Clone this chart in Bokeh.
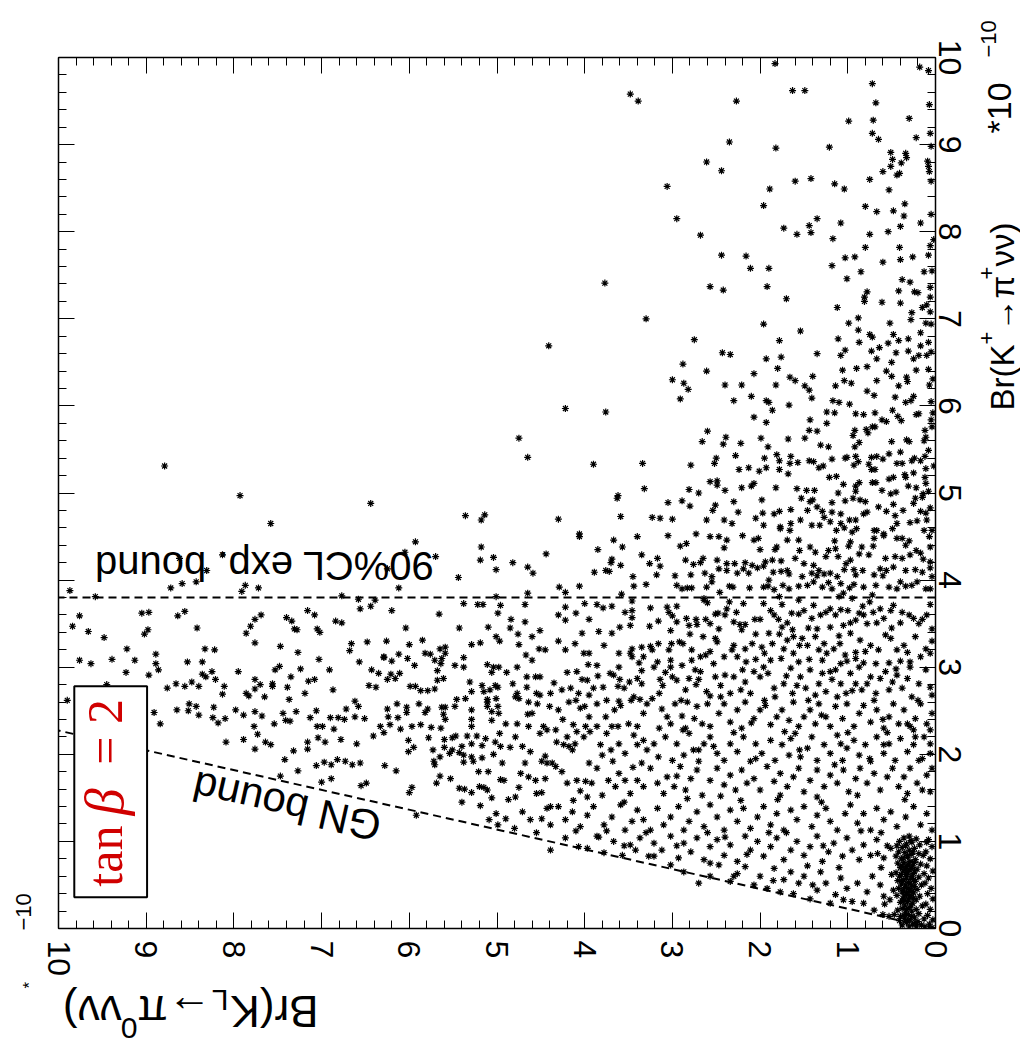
import math
from bokeh.plotting import figure
from bokeh.layouts import row, column
from bokeh.models import Range1d, LinearAxis, FixedTicker, Label, CustomJSTickFormatter
from bokeh.embed import file_html
from bokeh.resources import INLINE

# ---------------- data ----------------
kl_ticks = [0, 1, 2, 3, 4, 5, 6, 7, 8, 9, 10]
kp_ticks = [0, 1, 2, 3, 4, 5, 6, 7, 8, 9, 10]
minor_ticks = [round(0.2 * i, 1) for i in range(51)]

cl90_bound = 3.8      # 90%CL exp. bound on Br(K+ -> pi+ nu nu)  [1e-10]
gn_ratio = 4.4        # Grossman-Nir bound: Br(KL) < 4.4 Br(K+)

# points: (Br(K_L -> pi0 nu nu), Br(K+ -> pi+ nu nu)) in units of 1e-10
pts_upper = [
    (8.79,5.31),(7.93,4.97),
    (1.83,9.93),(0.18,9.89),(0.08,9.85),(0.72,9.70),(3.48,9.58),(3.39,9.50),(2.27,9.50),(1.63,9.62),(1.49,9.62),(0.68,9.48),
    (0.07,9.46),(0.99,9.27),(0.71,9.28),(0.30,9.30),(0.72,9.13),(0.65,9.06),(0.22,9.08),(0.06,9.13),(2.35,9.03),(1.82,8.96),
    (1.21,8.97),(0.05,8.98),(0.51,8.91),(0.34,8.90),(0.49,8.83),(0.33,8.85),(0.39,8.79),(0.51,8.75),(0.09,8.81),(0.08,8.75),
    (0.07,8.69),(0.60,8.69),(0.41,8.67),(0.44,8.65),(2.61,8.80),(2.44,8.70),(0.75,8.60),(0.05,8.58),(3.06,8.52),(1.89,8.49),
    (1.60,8.58),(1.42,8.61),(1.15,8.55),(1.04,8.49),(0.53,8.48),(1.96,8.30),(0.80,8.29),(0.67,8.23),(0.48,8.24),(0.35,8.32),
    (0.36,8.18),(0.05,8.20),(2.95,8.15),(2.68,7.96),(1.73,8.04),(1.58,7.97),(1.44,8.07),(1.42,7.99),(1.35,8.15),(1.08,8.10),
    (1.17,7.92),(0.75,7.97),(0.54,8.00),(0.40,8.06),(0.17,8.10),(0.02,7.91),(0.80,7.82),(0.41,7.82),(0.06,7.84),(2.44,7.73),
    (2.16,7.72),(2.11,7.58),(1.90,7.58),(1.18,7.61),(1.03,7.70),(0.92,7.71),(0.60,7.65),(0.40,7.68),(0.26,7.71),(0.08,7.73),
    (0.85,7.54),(1.01,7.46),(0.13,7.54),(0.04,7.55),(0.38,7.45),(0.29,7.42),(3.77,7.41),(2.57,7.37),(2.42,7.33),(1.92,7.37),
    (1.70,7.23),(0.81,7.25),(0.78,7.31),(0.81,7.20),(0.61,7.19),(0.42,7.32),(0.40,7.18),(0.24,7.31),(0.20,7.30),(0.06,7.36),
    (0.06,7.25),(0.10,7.16),(0.15,7.13),(1.12,7.13),(0.27,7.07),(0.06,7.08),(3.30,7.00),(1.96,6.94),(1.54,6.86),(0.99,6.95),
    (0.88,7.01),(0.88,6.87),(0.52,6.95),(0.28,6.99),(0.11,6.95),(0.05,6.94),(4.41,6.69),(2.75,6.76),(1.78,6.75),(1.11,6.77),
    (0.87,6.73),(0.75,6.82),(0.72,6.79),(0.54,6.72),(0.48,6.82),(0.42,6.75),(0.31,6.77),(0.17,6.84),(0.08,6.73),(2.43,6.61),
    (2.34,6.59),(1.93,6.54),(1.76,6.56),(1.35,6.60),(1.08,6.58),(1.03,6.64),(0.73,6.63),(0.67,6.54),(0.64,6.67),(0.45,6.61),
    (0.50,6.50),(0.31,6.63),(0.25,6.54),(0.19,6.58),(0.17,6.69),(0.10,6.58),(0.05,6.62),(2.88,6.48),(2.61,6.40),(3.00,6.30),
    (2.87,6.26),(2.82,6.19),(2.91,6.08),(2.40,6.24),(2.21,6.24),(2.07,6.37),(2.10,6.11),(1.80,6.43),(1.82,6.24),(1.66,6.33),
    (1.60,6.29),(1.49,6.23),(1.44,6.18),(1.40,6.34),(1.41,6.09),(1.14,6.23),(1.06,6.41),(1.04,6.29),(0.96,6.26),(0.90,6.43),
    (0.78,6.45),(0.67,6.29),(0.56,6.40),(0.50,6.34),(0.42,6.23),(0.33,6.33),(0.32,6.28),(0.22,6.41),(0.08,6.42),(0.03,6.31),
    (0.07,6.24),(0.78,6.17),(0.70,6.12),(0.46,6.10),(0.25,6.11),(0.34,6.04),(0.28,6.06),(0.05,6.05),(4.22,5.97),(3.76,5.93),
    (2.30,6.06),(1.93,6.06),(1.90,6.04),(1.67,6.01),(1.86,5.95),(2.07,5.87),(1.93,5.81),(1.24,5.93),(1.17,6.06),(1.10,6.04),
    (1.15,5.92),(0.98,6.02),(0.91,5.91),(0.82,5.90),(0.69,5.92),(0.61,5.84),(0.56,5.82),(0.43,5.88),(0.39,5.83),(0.49,5.95),
    (0.22,5.90),(0.19,5.91),(0.03,5.92),(0.05,5.84),(0.04,5.76),(1.43,5.84),(1.24,5.80),(1.44,5.72),(1.35,5.71),(4.75,5.63),
    (4.65,5.41),(3.90,5.33),(3.34,5.34),(3.32,5.05),(3.62,4.97),(2.60,5.71),(2.66,5.59),(2.42,5.56),(2.39,5.64),(2.22,5.57),
    (1.99,5.63),(1.91,5.53),(1.68,5.62),(1.49,5.63),(1.31,5.55),(1.22,5.53),(0.94,5.66),(0.92,5.72),(0.87,5.58),(0.92,5.53),
    (0.79,5.73),(0.72,5.76),(0.69,5.76),(0.77,5.69),(0.50,5.59),(0.33,5.61),(0.30,5.59),(0.12,5.72),(0.11,5.64),(0.13,5.60),
    (0.08,5.49),(2.79,5.32),(2.52,5.34),(2.50,5.40),(2.28,5.43),(2.24,5.27),(2.13,5.29),(2.01,5.25),(1.95,5.40),(1.93,5.29),
    (1.81,5.44),(1.78,5.37),(1.78,5.27),(1.68,5.22),(1.65,5.42),(1.66,5.34),(1.57,5.35),(1.44,5.37),(1.39,5.36),(1.33,5.29),
    (1.28,5.31),(1.18,5.39),(1.21,5.18),(1.13,5.19),(1.03,5.40),(1.01,5.41),(0.91,5.42),(0.93,5.32),(0.88,5.36),(0.76,5.33),
    (0.73,5.41),(0.67,5.42),(0.73,5.27),(0.69,5.27),(0.60,5.39),(0.53,5.45),(0.44,5.34),(0.38,5.34),(0.40,5.47),(0.27,5.37),
    (0.24,5.40),(0.17,5.37),(0.12,5.42),(0.11,5.28),(0.02,5.31),(0.53,5.16),(0.48,5.18),(0.35,5.21),(0.34,5.18),(0.25,5.23),
    (0.12,5.18),(2.57,5.13),(2.49,5.14),(2.49,5.09),(2.40,5.03),(2.81,5.04),(2.70,5.00),(2.21,5.06),(2.10,5.08),(2.07,5.11),
    (1.82,5.06),(1.58,5.05),(1.47,5.03),(1.38,5.03),(1.11,5.00),(1.05,5.10),(0.91,5.08),(0.87,5.12),(0.91,5.02),(0.72,5.12),
    (0.68,5.12),(0.61,5.03),(0.51,4.99),(0.45,5.01),(0.31,5.08),(0.22,5.06),(0.11,5.11),(0.14,4.99),(0.08,5.02),
]

pts_outer = [
    (6.44,4.88),(7.58,4.65),(5.36,4.74),(5.14,4.75),(5.18,4.69),(5.93,4.44),(5.18,4.38),(5.19,4.23),(5.04,4.26),(5.01,4.12),
    (5.70,4.27),(6.05,4.32),(6.25,4.13),(6.12,3.91),(5.44,4.03),(8.13,4.29),(8.31,4.11),(8.62,4.25),(9.87,3.88),(9.58,3.81),
    (8.72,3.91),(8.59,3.96),(8.43,3.98),(7.91,3.87),(7.87,3.94),(7.72,3.91),(6.77,3.82),(6.58,3.78),(6.44,3.70),(6.39,3.77),
    (6.56,3.67),(6.20,3.65),(5.38,3.73),(5.22,3.72),(5.16,3.72),(5.01,3.81),(5.66,3.61),(5.43,3.45),(5.10,3.46),(5.01,3.35),
    (6.04,3.45),(9.76,3.59),(9.84,3.47),(9.66,3.41),(9.48,3.34),(9.05,3.62),(8.97,3.63),(9.02,3.38),(8.98,3.43),(8.64,3.59),
    (8.56,3.64),(8.42,3.45),(7.86,3.39),(7.81,3.47),(7.76,3.28),(7.76,3.55),(7.69,3.60),(7.40,3.57),(7.34,3.53),(7.31,3.44),
    (7.28,3.43),(7.16,3.65),(7.08,3.60),(7.05,3.44),(7.02,3.40),(6.84,3.53),(6.77,3.51),(7.47,3.24),(7.27,3.17),(7.03,3.09),
    (7.24,2.98),(6.91,2.97),(6.87,2.74),(6.68,3.19),(6.66,3.27),(6.48,3.29),(6.26,3.30),(6.57,3.06),(6.00,3.26),(5.85,3.31),
    (5.82,3.16),(5.76,3.15),(5.65,3.21),(5.59,3.23),(6.12,3.15),(6.02,3.10),(6.29,3.11),(6.20,3.07),(5.94,3.02),(5.71,3.08),
    (5.64,3.04),(5.48,3.02),(5.38,3.11),(5.38,3.00),(5.29,3.26),(5.19,3.28),(5.11,3.03),(5.04,3.00),(5.68,2.96),(5.06,2.94),
    (9.76,3.08),(9.63,3.04),(9.39,3.09),(9.22,3.21),(9.13,3.08),(9.23,2.94),(8.89,3.15),(8.89,3.04),(8.86,2.97),(8.97,2.91),
    (9.45,2.80),(9.90,2.62),(8.91,2.48),(8.84,2.35),(8.76,2.76),(8.66,2.81),(8.56,2.78),(8.53,3.06),(8.48,2.83),(8.40,2.78),
    (8.36,3.06),(8.36,2.92),(8.33,3.21),(8.22,3.20),(8.25,2.95),(8.21,2.86),(8.32,2.89),(8.11,2.78),(8.13,2.69),(8.51,2.58),
    (8.52,2.50),(8.43,2.55),(8.40,2.45),(8.65,2.51),(8.23,2.54),(8.24,2.42),(8.18,2.36),(8.10,2.41),(8.09,2.14),(7.95,2.95),
    (7.98,2.51),(7.89,2.45),(7.89,2.17),(7.86,2.70),(7.83,2.67),(7.76,2.75),(7.76,2.86),(7.70,2.80),(7.76,2.49),(7.77,2.32),
    (7.73,2.23),(7.76,2.06),(7.68,2.44),(7.65,2.66),(7.64,2.14),(7.58,2.11),(7.56,2.81),(7.56,2.78),(7.53,2.97),(7.48,3.01),
    (7.54,2.35),(7.44,2.47),(7.41,2.39),(7.36,2.38),(7.39,2.77),(7.37,2.63),(7.35,2.89),(7.29,2.49),(7.19,2.70),(7.15,2.84),
    (7.08,2.86),(7.16,2.14),(7.16,2.06),(7.32,2.04),(7.42,1.94),(7.27,1.81),(7.06,2.50),(7.13,2.42),(7.05,2.32),(6.99,2.32),
    (7.04,2.19),(6.96,2.14),(6.86,2.29),(6.90,2.42),(6.81,2.42),(6.78,2.17),(6.74,2.40),(6.72,2.52),(6.62,2.61),(6.62,2.43),
    (6.58,2.55),(6.51,2.41),(6.60,2.12),(7.06,1.87),(6.97,1.91),(6.89,1.88),(6.82,1.94),(6.73,1.92),(6.65,1.88),(6.56,1.90),
    (7.00,1.68),(6.89,1.72),(7.47,1.75),(6.55,1.64),(6.49,1.67),(6.41,2.21),(6.33,2.32),(6.29,2.25),(6.28,1.87),(6.15,1.81),
    (6.25,2.52),(6.24,2.43),(6.22,2.34),(6.14,2.58),(6.13,2.42),(6.10,2.29),(6.03,2.54),(6.03,2.48),(6.01,2.16),(6.01,2.03),
    (5.95,2.08),(5.97,2.32),(5.89,2.58),(5.87,2.34),(5.82,2.48),(5.79,2.52),(5.78,2.19),(5.75,2.31),(5.73,2.05),(5.72,1.92),
    (5.71,1.88),(5.65,1.97),(5.65,1.75),(5.69,1.67),(5.64,2.30),(5.63,2.54),(5.61,2.46),(5.59,2.40),(5.59,2.54),(5.60,2.17),
    (5.60,2.08),(5.54,2.01),(5.53,1.72),(5.51,2.05),(5.51,2.19),(5.48,2.55),(5.46,2.63),(5.47,2.21),(5.43,2.02),(5.40,2.09),
    (5.38,1.91),(5.38,1.99),(5.36,2.64),(5.34,2.21),(5.29,2.12),(5.29,2.51),(5.29,2.40),(5.29,2.32),(5.29,1.97),(5.27,1.92),
    (5.23,2.21),(5.21,1.80),(5.17,1.96),(5.17,2.10),(5.13,2.18),(5.11,2.55),(5.11,2.63),(5.10,1.80),(5.06,2.39),(5.06,2.49),
    (5.04,2.00),(5.02,2.14),(5.01,2.64),(5.31,2.83),(5.29,2.72),(5.15,2.72),(5.17,2.79),(5.08,2.74),(5.02,2.79),(5.11,2.60),
    (5.93,2.78),(5.87,2.73),(5.79,2.73),(5.71,2.75),(5.68,2.85),(5.61,2.87),(5.63,3.10),(5.59,3.16),(6.11,2.93),(6.16,2.87),
    (6.25,2.86),(6.29,3.12),(6.43,2.97),(6.35,2.93),(6.46,2.79),(6.38,2.77),(6.21,2.92),(5.99,2.78),(5.43,1.61),(5.37,1.60),
    (5.40,1.45),(5.29,1.56),(5.20,1.63),(5.15,1.62),(5.11,1.59),(5.06,1.50),(5.19,1.41),(5.09,1.25),(6.00,1.56),(5.97,1.62),
    (5.92,1.30),(5.01,1.32),
]

pts_dense_top = [
    (3.63,4.94),(3.05,4.89),(2.89,4.91),(2.80,4.85),(2.51,4.86),(2.54,4.80),(2.25,4.78),(1.97,4.77),(1.98,4.92),(1.84,4.76),
    (1.78,4.79),(1.65,4.81),(1.53,4.94),(1.43,4.90),(1.40,4.92),(1.46,4.80),(1.35,4.84),(1.29,4.79),(1.18,4.89),(1.18,4.78),
    (1.08,4.76),(1.03,4.91),(0.94,4.94),(0.86,4.92),(0.80,4.90),(0.78,4.78),(0.65,4.84),(0.56,4.79),(0.48,4.87),(0.37,4.80),
    (0.25,4.88),(0.23,4.94),(0.17,4.79),(0.11,4.77),(0.06,4.83),(3.59,4.73),(3.23,4.72),(3.14,4.71),(2.61,4.69),(2.41,4.69),
    (2.32,4.65),(2.05,4.71),(1.96,4.63),(1.77,4.61),(1.66,4.57),(1.54,4.69),(1.41,4.63),(1.32,4.63),(1.27,4.72),(1.20,4.67),
    (1.13,4.57),(1.08,4.65),(0.98,4.69),(0.91,4.69),(0.90,4.59),(1.04,4.60),(0.82,4.76),(0.70,4.57),(0.67,4.57),(0.59,4.53),
    (0.46,4.74),(0.44,4.65),(0.49,4.59),(0.29,4.66),(0.21,4.68),(0.10,4.69),(0.13,4.57),(0.04,4.57),
    (4.06,4.53),(4.06,4.50),(3.67,4.46),(3.57,4.38),(4.44,4.30),(3.05,4.51),(2.91,4.39),(2.84,4.42),(2.73,4.53),(2.57,4.50),
    (2.47,4.50),(2.38,4.46),(2.41,4.37),(2.20,4.51),(2.07,4.46),(2.02,4.48),(1.81,4.38),(1.83,4.35),(1.77,4.59),(1.69,4.46),
    (1.56,4.46),(1.55,4.34),(1.43,4.38),(1.37,4.32),(1.25,4.27),(1.22,4.34),(1.14,4.36),(1.11,4.27),(0.99,4.39),(0.97,4.44),
    (0.84,4.38),(0.76,4.29),(0.70,4.48),(0.71,4.39),(0.59,4.51),(0.44,4.48),(0.38,4.48),(0.34,4.40),(0.22,4.34),(0.17,4.31),
    (0.06,4.38),(0.07,4.50),(0.46,4.27),(0.57,4.25),(0.87,4.30),(0.97,4.23),(1.02,4.19),(3.35,4.29),(3.17,4.25),(3.26,4.19),
    (3.69,4.24),(3.70,4.20),(3.59,4.17),(3.14,4.16),(2.85,4.23),(2.76,4.18),(2.68,4.20),(2.49,4.23),(2.38,4.19),(2.29,4.19),
    (2.17,4.20),(2.09,4.17),(1.94,4.21),(1.86,4.23),(1.76,4.22),(1.60,4.25),(1.50,4.19),(1.39,4.17),(0.14,4.24),(0.06,4.21),
    (0.29,4.29),(0.38,4.25),
    (4.82,4.20),(4.65,4.15),(4.59,4.08),(3.89,4.09),(3.76,4.11),(3.72,4.10),(3.45,4.04),(3.18,4.06),(2.97,4.05),(2.79,4.06),
    (2.63,4.08),(2.55,4.04),(2.47,4.13),(2.38,4.11),(2.26,4.08),(2.19,4.13),(2.13,4.08),(1.96,4.16),(2.03,4.14),(1.85,4.09),
    (1.76,4.10),(1.69,4.11),(1.67,4.07),(1.52,4.04),(1.41,4.08),(1.33,4.11),(1.27,4.07),(1.20,4.08),(1.12,4.04),(1.04,4.12),
    (0.93,4.12),(0.91,4.06),(0.83,4.11),(0.70,4.06),(0.63,4.13),(0.56,4.11),(0.48,4.15),(0.34,4.11),(0.23,4.12),(0.15,4.09),
    (0.06,4.14),(0.04,4.04),(4.29,3.92),(4.22,3.86),(4.06,3.93),(4.65,3.85),(3.58,3.84),(3.44,3.93),(2.95,3.94),(2.89,3.90),
    (2.83,3.91),(2.78,3.91),(2.61,3.92),(2.46,3.86),(2.35,3.93),(2.31,3.92),(2.12,3.91),(1.96,3.92),(1.91,3.93),(1.84,3.89),
    (1.74,3.94),(1.67,3.90),(1.56,3.93),(1.46,3.94),(1.39,3.98),(1.29,3.92),(1.22,3.97),(1.18,3.90),(1.08,3.96),(0.98,3.91),
    (0.93,3.95),(0.82,3.92),(0.68,3.94),(0.53,3.92),(0.44,3.90),(0.34,3.93),(0.27,3.94),(0.21,3.98),(0.11,3.90),(0.06,3.90),
    (1.05,3.85),(0.72,3.83),(1.10,3.81),(1.78,3.81),(2.64,3.79),
]

pts_dense_mid = [
    (4.96,3.71),(4.99,3.62),(4.84,3.55),(4.68,3.72),(4.68,3.52),(4.51,3.42),(4.22,3.69),(4.22,3.54),(4.10,3.62),(4.00,3.73),
    (3.86,3.72),(3.79,3.68),(3.69,3.70),(3.54,3.63),(3.46,3.76),(3.46,3.65),(3.46,3.57),(3.48,3.48),(3.26,3.47),(3.16,3.53),
    (3.06,3.69),(3.04,3.63),(3.00,3.59),(3.02,3.42),(2.95,3.70),(2.84,3.56),(2.73,3.55),(2.72,3.49),(2.64,3.77),(2.60,3.74),
    (2.62,3.55),(2.57,3.50),(2.51,3.61),(2.48,3.62),(2.40,3.60),(2.38,3.67),(2.27,3.63),(2.19,3.73),(2.30,3.52),(2.23,3.49),
    (2.17,3.49),(2.06,3.55),(2.00,3.55),(1.96,3.73),(1.88,3.65),(1.84,3.60),(1.79,3.55),(1.69,3.51),(1.64,3.62),(1.56,3.61),
    (1.50,3.65),(1.56,3.77),(1.39,3.71),(1.41,3.56),(1.31,3.60),(1.25,3.63),(1.20,3.67),(1.14,3.60),(1.08,3.66),(1.00,3.65),
    (0.95,3.79),(0.91,3.54),(0.87,3.62),(0.83,3.70),(0.82,3.60),(0.71,3.63),(0.63,3.67),(0.59,3.56),(0.51,3.65),(0.48,3.71),
    (0.38,3.63),(0.30,3.60),(0.25,3.56),(0.19,3.50),(0.10,3.60),(0.06,3.72),(0.04,3.44),(0.40,3.51),(0.67,3.51),(0.78,3.50),
    (0.97,3.51),(1.05,3.48),(1.20,3.46),(1.35,3.44),(1.63,3.43),(1.75,3.46),(2.21,3.43),(2.47,3.44),(2.81,3.48),
    (4.97,3.30),(4.76,3.38),(4.75,3.26),(4.67,3.14),(4.60,3.08),(4.52,3.21),(4.45,3.20),(4.30,3.30),(4.22,3.20),(4.11,3.27),
    (4.03,3.39),(4.01,3.16),(3.95,3.16),(3.84,3.41),(3.78,3.25),(3.69,3.39),(3.61,3.16),(3.48,3.16),(3.46,3.21),(3.35,3.23),
    (3.33,3.12),(3.25,3.24),(3.23,3.20),(3.16,3.27),(3.04,3.20),(3.01,3.27),(2.92,3.29),(2.88,3.27),(2.80,3.38),(2.78,3.20),
    (2.68,3.12),(2.62,3.14),(2.57,3.18),(2.51,3.33),(2.49,3.29),(2.41,3.12),(2.32,3.20),(2.30,3.25),(2.17,3.21),(2.09,3.27),
    (2.05,3.09),(1.98,3.23),(1.95,3.16),(1.90,3.39),(1.86,3.27),(1.78,3.38),(1.73,3.21),(1.69,3.31),(1.62,3.35),(1.55,3.25),
    (1.52,3.33),(1.46,3.25),(1.37,3.35),(1.33,3.20),(1.27,3.27),(1.24,3.16),(1.16,3.21),(1.09,3.27),(1.03,3.14),(0.97,3.39),
    (0.91,3.17),(0.86,3.31),(0.80,3.18),(0.74,3.25),(0.65,3.20),(0.57,3.37),(0.51,3.33),(0.44,3.20),(0.36,3.25),(0.32,3.17),
    (0.23,3.35),(0.11,3.21),(0.04,3.30),(0.06,3.16),(0.17,3.12),(0.29,3.06),(0.40,3.07),(0.53,3.05),(0.68,3.04),(0.82,3.05),
    (0.91,3.10),(1.01,3.07),(1.08,3.04),(1.29,3.08),(1.44,3.09),(1.56,3.06),(1.62,3.16),(1.76,3.10),(1.88,3.08),(2.16,3.06),
    (2.26,3.12),(2.53,3.04),(2.78,3.08),(2.89,3.02),(3.02,3.08),(3.17,3.06),(3.38,3.05),(3.46,3.12),(3.61,3.00),(3.86,3.02),
    (3.96,3.03),(4.09,2.95),(4.20,2.94),(4.51,2.89),(4.56,2.89),(4.66,2.89),(4.77,3.00),(4.89,2.94),(4.98,3.00),
    (4.99,2.77),(4.82,2.81),(4.79,2.66),(4.66,2.77),(4.55,2.70),(4.51,2.68),(4.39,2.70),(4.26,2.74),(4.16,2.76),(4.07,2.70),
    (3.95,2.68),(3.97,2.85),(4.03,2.86),(3.90,2.76),(3.79,2.77),(3.71,2.93),(3.67,2.91),(3.62,2.78),(3.55,2.76),(3.49,2.83),
    (3.40,2.87),(3.35,2.81),(3.44,2.66),(3.47,2.62),(3.61,2.61),(3.21,3.00),(3.14,2.86),(3.11,2.79),(3.08,2.94),(3.00,2.89),
    (2.95,2.85),(3.02,3.00),(2.85,2.74),(2.81,2.87),(2.74,2.97),(2.73,2.80),(2.68,2.95),(2.61,2.72),(2.57,2.67),(2.51,2.89),
    (2.45,2.79),(2.40,2.91),(2.34,2.70),(2.30,2.89),(2.22,2.74),(2.17,2.83),(2.11,2.70),(2.07,2.95),(2.00,2.89),(1.96,3.00),
    (1.91,2.93),(1.84,2.76),(1.83,2.66),(1.73,2.81),(1.65,2.99),(1.63,2.70),(1.58,2.79),(1.54,2.89),(1.48,2.76),(1.43,2.97),
    (1.37,2.68),(1.33,2.81),(1.29,2.93),(1.25,2.72),(1.18,2.86),(1.14,2.97),(1.12,2.66),(1.08,2.81),(1.02,2.70),(0.97,2.93),
    (0.91,2.81),(0.87,3.00),(0.84,2.74),(0.78,2.81),(0.74,2.89),(0.68,2.70),(0.63,2.87),(0.57,2.95),(0.53,2.74),(0.49,2.83),
    (0.44,2.91),(0.38,2.76),(0.32,2.87),(0.27,2.66),(0.19,2.81),(0.11,2.97),(0.06,2.77),(0.04,2.68),(0.29,3.00),
]

pts_dense_low = [
    (4.99,2.55),(4.98,2.47),(4.97,2.24),(4.77,2.70),(4.75,2.64),(4.64,2.60),(4.60,2.47),(4.54,2.58),(4.40,2.55),(4.30,2.51),
    (4.18,2.60),(4.05,2.53),(4.00,2.55),(3.95,2.43),(3.86,2.58),(3.76,2.43),(3.66,2.51),(3.69,2.32),(3.62,2.32),(3.59,2.56),
    (3.50,2.35),(3.40,2.32),(3.37,2.63),(3.33,2.47),(3.29,2.58),(3.23,2.64),(3.12,2.52),(3.06,2.43),(3.02,2.35),(2.97,2.58),
    (2.89,2.44),(2.83,2.60),(2.75,2.41),(2.72,2.55),(2.66,2.35),(2.60,2.58),(2.57,2.32),(2.47,2.47),(2.41,2.58),(2.34,2.37),
    (2.26,2.51),(2.21,2.30),(2.17,2.60),(2.07,2.41),(2.00,2.51),(1.94,2.56),(1.88,2.34),(1.81,2.43),(1.75,2.51),(1.67,2.39),
    (1.62,2.60),(1.56,2.32),(1.50,2.43),(1.43,2.51),(1.37,2.35),(1.33,2.58),(1.25,2.43),(1.20,2.32),(1.14,2.55),(1.06,2.41),
    (1.01,2.58),(0.93,2.32),(0.87,2.47),(0.82,2.56),(0.74,2.37),(0.67,2.51),(0.59,2.30),(0.53,2.43),(0.48,2.58),(0.42,2.35),
    (0.36,2.51),(0.29,2.32),(0.23,2.41),(0.17,2.58),(0.10,2.35),(0.04,2.47),(0.06,2.28),(0.25,2.28),(0.32,2.35),(4.77,2.35),
    (4.64,2.32),(4.47,2.32),(4.43,2.28),(4.33,2.28),(4.13,2.34),(3.99,2.32),(3.86,2.32),
    (4.96,2.09),(4.94,1.90),(4.85,2.08),(4.71,2.09),(4.68,1.90),(4.62,2.03),(4.51,2.24),(4.49,1.92),(4.43,1.90),(4.37,1.90),
    (4.32,2.14),(4.24,2.11),(4.18,2.09),(4.11,2.12),(4.09,2.26),(4.01,2.20),(3.94,2.26),(3.82,2.11),(3.80,1.99),(3.75,2.24),
    (3.68,1.92),(3.61,2.12),(3.54,2.01),(3.44,2.22),(3.40,2.11),(3.35,1.90),(3.29,2.05),(3.21,2.12),(3.16,1.97),(3.08,2.20),
    (3.00,1.93),(2.95,2.12),(2.87,1.99),(2.81,2.24),(2.76,2.05),(2.70,1.92),(2.64,2.12),(2.57,2.20),(2.49,2.01),(2.41,1.93),
    (2.34,2.12),(2.26,2.03),(2.19,2.20),(2.11,1.92),(2.05,2.12),(1.98,2.01),(1.88,2.16),(1.83,1.93),(1.75,2.11),(1.67,1.99),
    (1.60,2.24),(1.54,1.97),(1.46,2.07),(1.41,2.20),(1.35,1.93),(1.27,2.11),(1.20,2.01),(1.12,2.22),(1.06,1.93),(1.01,2.07),
    (0.93,2.16),(0.87,1.99),(0.80,2.11),(0.74,1.92),(0.67,2.20),(0.59,2.01),(0.53,2.12),(0.46,1.93),(0.40,2.18),(0.32,2.03),
    (0.25,2.11),(0.19,1.93),(0.13,2.20),(0.06,2.01),(0.06,2.12),(0.23,2.20),(0.59,2.11),(1.08,2.12),(1.65,2.18),(2.53,2.09),
    (3.33,2.16),(4.14,2.05),(4.79,2.20),
    (4.96,1.71),(4.92,1.70),(4.87,1.48),(4.79,1.51),(4.73,1.78),(4.64,1.74),(4.56,1.70),(4.55,1.55),(4.49,1.56),(4.45,1.72),
    (4.39,1.40),(4.33,1.86),(4.26,1.80),(4.20,1.67),(4.13,1.47),(4.09,1.70),(3.99,1.69),(3.92,1.67),(3.86,1.84),(3.80,1.53),
    (3.73,1.70),(3.65,1.63),(3.61,1.78),(3.54,1.70),(3.48,1.55),(3.40,1.70),(3.33,1.63),(3.25,1.84),(3.17,1.67),(3.10,1.55),
    (3.06,1.74),(2.98,1.63),(2.91,1.86),(2.85,1.59),(2.79,1.72),(2.72,1.82),(2.66,1.53),(2.57,1.70),(2.49,1.84),(2.41,1.65),
    (2.34,1.76),(2.28,1.59),(2.21,1.82),(2.15,1.67),(2.07,1.72),(2.00,1.59),(1.92,1.86),(1.84,1.69),(1.77,1.78),(1.69,1.63),
    (1.62,1.74),(1.56,1.84),(1.50,1.57),(1.43,1.70),(1.35,1.82),(1.27,1.63),(1.20,1.76),(1.12,1.67),(1.05,1.82),(0.99,1.57),
    (0.91,1.72),(0.86,1.84),(0.78,1.67),(0.70,1.78),(0.63,1.59),(0.55,1.74),(0.49,1.84),(0.42,1.63),(0.36,1.74),(0.29,1.84),
    (0.21,1.67),(0.15,1.59),(0.10,1.76),(0.04,1.84),(0.06,1.57),(0.32,1.55),(0.89,1.53),(1.35,1.51),(1.77,1.53),(2.83,1.49),
    (3.97,1.51),
]

pts_dense_gn = [
    (4.99,1.19),(4.90,1.26),(4.71,1.34),(4.62,1.25),(4.49,1.26),(4.39,1.19),(4.43,1.38),(4.30,1.40),(4.22,1.25),(4.14,1.34),
    (4.05,1.17),(3.97,1.30),(3.90,1.40),(3.84,1.05),(3.78,1.19),(3.69,1.28),(3.59,1.42),(3.54,1.13),(3.46,1.23),(3.40,1.36),
    (3.33,1.25),(3.25,1.13),(3.17,1.38),(3.10,1.19),(3.02,1.28),(2.93,1.40),(2.87,1.13),(2.81,1.23),(2.72,1.34),(2.64,1.17),
    (2.57,1.42),(2.49,1.28),(2.41,1.13),(2.34,1.36),(2.26,1.23),(2.19,1.38),(2.11,1.15),(2.03,1.28),(1.96,1.40),(1.88,1.19),
    (1.81,1.32),(1.73,1.13),(1.65,1.36),(1.58,1.25),(1.50,1.40),(1.41,1.17),(1.35,1.30),(1.25,1.38),(1.20,1.23),(1.12,1.13),
    (1.03,1.32),(0.97,1.42),(0.89,1.21),(0.82,1.32),(0.74,1.13),(0.67,1.38),(0.59,1.25),(0.51,1.34),(0.44,1.17),(0.34,1.28),
    (0.25,1.40),(0.17,1.19),(0.10,1.32),(0.04,1.13),
    (4.39,0.90),(4.22,1.04),(4.07,0.94),(3.97,0.92),(3.78,0.87),(3.86,1.06),(3.67,1.00),(3.57,0.84),(3.48,0.96),(3.37,1.04),
    (3.42,0.90),(3.27,0.83),(3.21,0.98),(3.12,0.90),(3.02,1.06),(2.93,0.81),(2.87,0.98),(2.79,0.88),(2.72,1.04),(2.64,0.79),
    (2.57,0.94),(2.49,1.02),(2.41,0.84),(2.34,0.96),(2.26,0.77),(2.17,1.06),(2.11,0.90),(2.03,1.00),(1.96,0.83),(1.88,0.94),
    (1.81,1.04),(1.73,0.79),(1.65,0.90),(1.58,1.00),(1.50,0.84),(1.43,0.94),(1.35,1.06),(1.29,0.77),(1.22,0.88),(1.16,0.98),
    (1.06,0.83),(1.01,1.04),(0.95,0.90),(0.87,0.79),(0.82,0.96),(0.74,0.84),(0.67,1.02),(0.59,0.81),(0.51,0.92),
    (2.70,0.52),(2.57,0.60),(2.47,0.73),(2.34,0.54),(2.26,0.63),(2.17,0.71),(2.07,0.50),(2.00,0.60),(1.92,0.46),(1.84,0.69),
    (1.77,0.42),(1.73,0.56),(1.65,0.65),(1.62,0.40),(1.56,0.52),(1.50,0.60),(1.43,0.34),(1.35,0.44),(1.31,0.65),(1.25,0.52),
    (1.20,0.29),(1.14,0.39),(1.08,0.58),(1.01,0.46),(0.95,0.31),(0.89,0.52),(0.82,0.29),(0.78,0.42),(0.70,0.21),(0.63,0.50),
    (0.59,0.37),(0.53,0.14),(0.48,0.44),(2.57,0.75),(3.02,0.73),(2.87,0.65),(3.21,0.83),
    (0.55,0.95),(0.62,0.70),(0.50,0.62),(0.58,0.28),(0.66,0.86),(0.52,0.33),(0.72,0.60),(0.47,0.16),(0.60,0.16),
]

pts_dense_extra = [
    (0.62,1.10),(0.85,1.12),(1.10,0.70),(1.28,0.95),(1.46,0.72),(1.70,1.10),(1.90,1.10),(2.15,0.85),(2.40,1.05),(2.60,1.10),
    (2.95,0.95),(3.30,1.10),(3.55,0.95),(3.75,1.12),(4.10,1.12),(4.55,1.10),(4.80,1.15),(1.05,0.33),(1.40,0.50),(1.85,0.55),
    (2.30,0.60),(0.35,1.48),(0.75,1.95),(1.00,2.25),(1.30,1.45),(1.55,2.05),(1.80,1.48),(2.05,1.95),(2.30,2.25),(2.45,1.52),
    (2.70,2.05),(2.95,1.75),(3.15,2.30),(3.45,1.85),(3.70,2.05),(3.95,1.90),(4.20,2.20),(4.45,1.98),(4.75,1.62),(0.15,1.95),
    (0.55,2.25),(1.15,1.88),(1.72,2.26),(2.22,1.47),(2.88,2.28),(3.55,1.45),(4.05,1.58),(0.20,2.62),(0.45,2.98),(0.70,2.62),
    (0.95,2.73),(1.20,2.95),(1.45,2.62),(1.70,2.90),(1.95,2.62),(2.20,2.97),(2.45,2.66),(2.70,2.86),(2.90,2.62),(3.15,2.70),
    (3.35,2.96),(3.60,2.86),(3.85,2.90),(4.10,2.62),(4.35,2.82),(4.65,2.46),(4.90,2.35),(0.60,2.40),(1.30,2.45),(2.10,2.36),
    (2.85,2.30),(3.75,2.62),(4.25,2.40),(0.15,3.55),(0.50,3.45),(0.75,3.75),(1.10,3.36),(1.45,3.45),(1.75,3.72),(2.05,3.38),
    (2.35,3.75),(2.65,3.35),(2.95,3.52),(3.25,3.68),(3.60,3.46),(3.95,3.55),(4.30,3.60),(4.60,3.35),(4.85,3.45),(0.30,4.45),
    (0.60,4.05),(0.95,4.55),(1.35,4.05),(1.65,4.65),(2.00,4.35),(2.30,4.90),(2.65,4.25),(3.00,4.70),(3.40,4.50),(3.85,4.35),
    (4.30,4.70),(0.15,4.95),(0.40,3.98),(1.15,4.45),(1.90,4.00),(2.55,3.98),(3.30,3.95),
]

pts_core = [
    (0.30,1.06),(0.36,1.04),(0.22,1.03),(0.41,1.00),(0.27,0.99),(0.33,0.97),(0.18,0.96),(0.44,0.95),(0.38,0.93),(0.24,0.92),
    (0.30,0.90),(0.42,0.88),(0.35,0.87),(0.19,0.86),(0.27,0.85),(0.45,0.83),(0.32,0.82),(0.39,0.80),(0.23,0.79),(0.29,0.77),
    (0.36,0.76),(0.43,0.75),(0.17,0.74),(0.26,0.72),(0.33,0.71),(0.40,0.70),(0.21,0.68),(0.30,0.67),(0.37,0.66),(0.45,0.64),
    (0.25,0.63),(0.34,0.62),(0.41,0.60),(0.19,0.59),(0.28,0.58),(0.36,0.56),(0.43,0.55),(0.23,0.54),(0.31,0.53),(0.39,0.51),
    (0.16,0.50),(0.27,0.49),(0.35,0.47),(0.42,0.46),(0.21,0.45),(0.30,0.44),(0.38,0.42),(0.25,0.41),(0.33,0.39),(0.44,0.38),
    (0.18,0.37),(0.29,0.36),(0.37,0.34),(0.22,0.33),(0.32,0.31),(0.40,0.30),(0.26,0.29),(0.35,0.27),(0.15,0.26),(0.30,0.24),
    (0.38,0.23),(0.22,0.22),(0.43,0.21),(0.27,0.20),(0.34,0.18),(0.19,0.17),(0.31,0.16),(0.40,0.14),(0.24,0.13),(0.35,0.12),
    (0.13,0.11),(0.29,0.10),(0.41,0.09),(0.20,0.08),(0.33,0.07),(0.26,0.05),(0.38,0.04),(0.16,0.04),(0.30,0.02),(0.22,0.02),
    (0.08,1.02),(0.04,0.94),(0.11,0.88),(0.06,0.80),(0.10,0.72),(0.03,0.66),(0.08,0.58),(0.12,0.52),(0.05,0.46),(0.09,0.40),
    (0.03,0.34),(0.11,0.28),(0.06,0.22),(0.09,0.15),(0.03,0.10),(0.07,0.05),(0.12,0.02),(0.04,0.01),(0.10,0.99),(0.13,0.63),
    (0.14,0.84),
    (0.28,1.01),(0.34,0.95),(0.26,0.88),(0.32,0.84),(0.37,0.81),(0.24,0.76),(0.31,0.74),(0.38,0.72),(0.28,0.69),(0.35,0.68),
    (0.24,0.66),(0.32,0.64),(0.39,0.62),(0.27,0.60),(0.33,0.58),(0.25,0.56),(0.38,0.54),(0.29,0.52),(0.34,0.50),(0.24,0.48),
    (0.31,0.46),(0.37,0.44),(0.27,0.43),(0.33,0.41),(0.29,0.38),(0.36,0.37),(0.25,0.35),(0.31,0.33),(0.37,0.32),(0.28,0.27),
    (0.33,0.22),(0.36,0.15),(0.27,0.14),(0.32,0.09),(0.23,0.07),
]

all_pts = (pts_upper + pts_outer + pts_dense_top + pts_dense_mid + pts_dense_low
           + pts_dense_gn + pts_dense_extra + pts_core)
br_kl = [a for a, b in all_pts]
br_kp = [b for a, b in all_pts]

# ---------------- layout sizes (pixels) ----------------
LEFT_W = 39            # side canvas on the left (exponent text)
P_W, P_H = 936, 979    # main figure; its frame is 877 x 872 placed at (58, 57)
RIGHT_W = 1020 - LEFT_W - P_W
BOTTOM_H = 1048 - P_H
FONT = "Liberation Sans"

# ---------------- main figure ----------------
p = figure(width=P_W, height=P_H, x_range=Range1d(10, 0), y_range=Range1d(0, 10),
           title=None, output_backend="svg", toolbar_location=None,
           x_axis_location=None, y_axis_location=None,
           min_border_left=19, min_border_right=40, min_border_top=57, min_border_bottom=50)
p.grid.grid_line_color = None
p.outline_line_color = None
p.background_fill_color = "white"
p.border_fill_color = "white"

blank = CustomJSTickFormatter(code="return ''")


def tick_axis(ticks, show_labels, standoff=0, size=32):
    ax = LinearAxis(ticker=FixedTicker(ticks=ticks, minor_ticks=minor_ticks))
    ax.axis_line_color = "black"
    ax.axis_line_width = 1.5
    ax.major_tick_in = 16
    ax.major_tick_out = 0
    ax.minor_tick_in = 8
    ax.minor_tick_out = 0
    ax.major_tick_line_color = "black"
    ax.minor_tick_line_color = "black"
    if show_labels:
        ax.major_label_text_font = FONT
        ax.major_label_text_font_size = f"{size}px"
        ax.major_label_text_color = "black"
        ax.major_label_orientation = "vertical"
        ax.major_label_standoff = standoff
    else:
        ax.formatter = blank
        ax.major_label_text_font_size = "1px"
        ax.major_label_standoff = 0
    return ax


p.add_layout(tick_axis(kl_ticks, True, 12), "below")
p.add_layout(tick_axis(kl_ticks, False), "above")
p.add_layout(tick_axis(kp_ticks, False), "left")
p.add_layout(tick_axis(kp_ticks, True, 3), "right")

# scatter of model points
p.scatter(br_kl, br_kp, marker="asterisk", size=7, line_color="black", line_width=1.2)

# bounds
p.line([0, 10], [cl90_bound, cl90_bound], line_color="black", line_width=2, line_dash="8 5")
p.line([0, 10], [0, 10 / gn_ratio], line_color="black", line_width=2, line_dash="8 5")

# tan beta box
p.quad(left=9.82, right=8.99, bottom=0.36, top=2.78, fill_color="white",
       line_color="black", line_width=2)


def add_text(fig, text, x, y, angle, size, font=FONT, color="black", style="normal"):
    fig.add_layout(Label(x=x, y=y, text=text, angle=angle, text_font=font,
                         text_font_size=f"{size}px", text_color=color, text_font_style=style,
                         text_align="left", text_baseline="middle"))


RED = "#d00000"
SERIF = "Liberation Serif"
add_text(p, "tan", 9.47, 0.48, math.pi / 2, 50, SERIF, RED)
add_text(p, "\u03b2", 9.47, 1.30, math.pi / 2, 54, SERIF, RED, "italic")
add_text(p, "= 2", 9.47, 1.88, math.pi / 2, 50, SERIF, RED)

gn_angle = math.pi - math.atan((87.2 / gn_ratio) / 87.7)
add_text(p, "GN bound", 6.33, 1.16, gn_angle, 42)
add_text(p, "90%CL exp. bound", 5.72, 4.16, math.pi, 40)


# ---------------- side canvases for the axis titles (pixel coordinates, y down) ----------------
def side_canvas(w, h):
    f = figure(width=w, height=h, x_range=Range1d(0, w), y_range=Range1d(h, 0),
               title=None, output_backend="svg", toolbar_location=None,
               x_axis_location=None, y_axis_location=None, min_border=0)
    f.grid.grid_line_color = None
    f.outline_line_color = None
    f.background_fill_color = "white"
    f.border_fill_color = "white"
    return f


# left: exponent of the K_L axis (reads upward); its "10" coincides with the last tick label
p_left = side_canvas(LEFT_W, 1048)
add_text(p_left, "*", 29, 988, math.pi / 2, 17)
add_text(p_left, "\u221210", 23, 930, math.pi / 2, 22)

# right: title and exponent of the K+ axis (reads upward); full height, x measured from x = 975
p_right = side_canvas(RIGHT_W, 1048)
add_text(p_right, "Br(K", 27, 410, math.pi / 2, 33)
add_text(p_right, "+", 11, 344, math.pi / 2, 22)
add_text(p_right, "\u2192\u03c0", 27, 331, math.pi / 2, 33)
add_text(p_right, "+", 11, 279, math.pi / 2, 22)
add_text(p_right, "\u03bd\u03bd)", 27, 266, math.pi / 2, 33)
add_text(p_right, "*10", 23, 133, math.pi / 2, 34)
add_text(p_right, "\u221210", 13, 57, math.pi / 2, 22)

# bottom: title of the K_L axis (upside down); x measured from x = 39
p_bottom = side_canvas(P_W, BOTTOM_H)
add_text(p_bottom, "Br(K", 279, 32, math.pi, 44)
add_text(p_bottom, "L", 189, 21, math.pi, 30)
add_text(p_bottom, "\u2192\u03c0", 172, 32, math.pi, 44)
add_text(p_bottom, "0", 98, 48, math.pi, 30)
add_text(p_bottom, "\u03bd\u03bd)", 82, 32, math.pi, 44)

# nesting keeps the main plot's frame from being aligned with the side canvases
layout = row(p_left, column(row(p), p_bottom), p_right)
open("out.html", "w").write(file_html(layout, INLINE))
